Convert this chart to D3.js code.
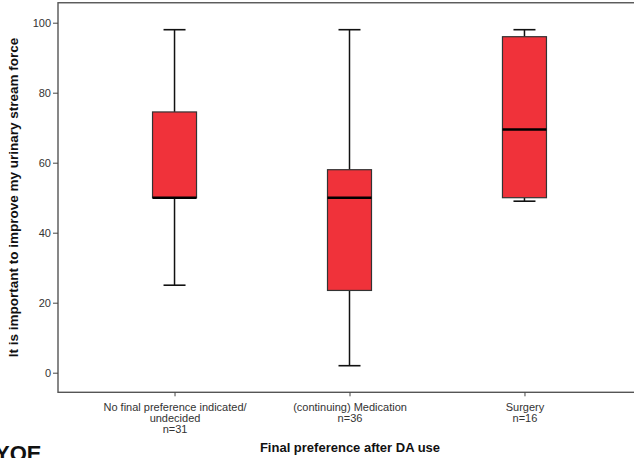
<!DOCTYPE html>
<html>
<head>
<meta charset="utf-8">
<script src="https://cdn.jsdelivr.net/npm/d3@7"></script>
<style>
  html, body { margin: 0; padding: 0; background: #fff; }
  svg { display: block; }
  text { font-family: "Liberation Sans", Arial, sans-serif; }
</style>
</head>
<body>
<svg id="chart" width="634" height="458"></svg>
<script>
// Box plot: importance of improving urinary stream force by final preference
const categories = [
  ["No final preference indicated/", "undecided", "n=31"],
  ["(continuing) Medication", "n=36"],
  ["Surgery", "n=16"]
];
const whiskerLow  = [25, 2, 49];
const q1          = [50, 23.5, 50];
const median      = [50, 50, 69.5];
const q3          = [74.5, 58, 96];
const whiskerHigh = [98, 98, 98];
const yTicks = [0, 20, 40, 60, 80, 100];

const svg = d3.select("#chart");

const plotLeft = 58, plotRight = 641;
const x = d3.scalePoint()
  .domain(d3.range(categories.length))
  .range([plotLeft, plotRight])
  .padding(0.666);
const y = d3.scaleLinear().domain([0, 100]).range([372.7, 22.7]);

const frameTop = y(105.7), frameBottom = y(-5.6);

// plot frame
svg.append("rect")
  .attr("x", plotLeft).attr("y", frameTop)
  .attr("width", plotRight - plotLeft).attr("height", frameBottom - frameTop)
  .attr("fill", "none").attr("stroke", "#555").attr("stroke-width", 1.4);

// y axis
const yAxis = d3.axisLeft(y).tickValues(yTicks).tickSize(5).tickPadding(2);
const gy = svg.append("g").attr("transform", `translate(${plotLeft},0)`).call(yAxis);
gy.select(".domain").remove();
gy.selectAll(".tick line").attr("stroke", "#444").attr("stroke-width", 1);
gy.selectAll(".tick text").attr("font-size", 11).attr("fill", "#333")
  .attr("font-family", "Liberation Sans, Arial, sans-serif");

// x axis
const xAxis = d3.axisBottom(x).tickSize(4).tickFormat(() => "");
const gx = svg.append("g").attr("transform", `translate(0,${frameBottom})`).call(xAxis);
gx.select(".domain").remove();
gx.selectAll(".tick line").attr("stroke", "#444").attr("stroke-width", 1);
gx.selectAll(".tick").each(function(d) {
  const t = d3.select(this).append("text")
    .attr("text-anchor", "middle").attr("font-size", 11).attr("fill", "#333")
    .attr("font-family", "Liberation Sans, Arial, sans-serif");
  categories[d].forEach((line, i) => {
    t.append("tspan").attr("x", 0).attr("y", 19 + i * 10.7).text(line);
  });
});

// boxes
const boxW = 44, capW = 22;
const g = svg.append("g");
categories.forEach((c, i) => {
  const cx = x(i);
  // whiskers
  g.append("line").attr("x1", cx).attr("x2", cx)
    .attr("y1", y(whiskerHigh[i])).attr("y2", y(q3[i]))
    .attr("stroke", "#111").attr("stroke-width", 1.5);
  g.append("line").attr("x1", cx).attr("x2", cx)
    .attr("y1", y(q1[i])).attr("y2", y(whiskerLow[i]))
    .attr("stroke", "#111").attr("stroke-width", 1.5);
  // caps
  [whiskerHigh[i], whiskerLow[i]].forEach(v => {
    g.append("line").attr("x1", cx - capW / 2).attr("x2", cx + capW / 2)
      .attr("y1", y(v)).attr("y2", y(v))
      .attr("stroke", "#111").attr("stroke-width", 1.6);
  });
  // box
  g.append("rect")
    .attr("x", cx - boxW / 2).attr("y", y(q3[i]))
    .attr("width", boxW).attr("height", y(q1[i]) - y(q3[i]))
    .attr("fill", "#f0323a").attr("stroke", "#333").attr("stroke-width", 1.2);
  // median
  g.append("line").attr("x1", cx - boxW / 2).attr("x2", cx + boxW / 2)
    .attr("y1", y(median[i])).attr("y2", y(median[i]))
    .attr("stroke", "#000").attr("stroke-width", 2.6);
});

// axis titles
svg.append("text")
  .attr("transform", `translate(18,${(frameTop + frameBottom) / 2}) rotate(-90)`)
  .attr("text-anchor", "middle").attr("font-size", 13.5).attr("font-weight", "bold")
  .attr("fill", "#111")
  .text("It is important to improve my urinary stream force");

svg.append("text")
  .attr("x", 350).attr("y", 452)
  .attr("text-anchor", "middle").attr("font-size", 13).attr("font-weight", "bold")
  .attr("fill", "#111")
  .text("Final preference after DA use");

// panel label at the lower edge
svg.append("text")
  .attr("x", -5).attr("y", 461)
  .attr("font-size", 22).attr("font-weight", "bold").attr("fill", "#111")
  .text("YOE");
</script>
</body>
</html>
